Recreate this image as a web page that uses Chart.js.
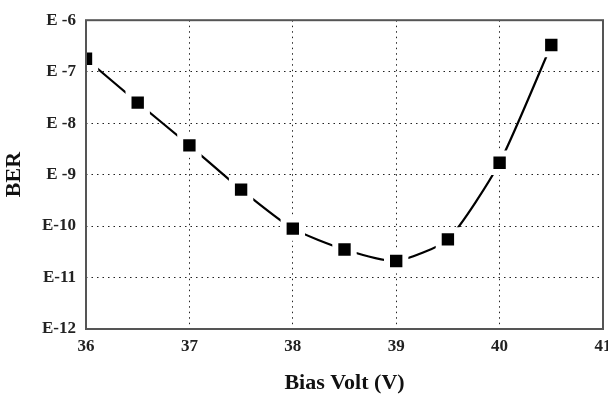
<!DOCTYPE html>
<html>
<head>
<meta charset="utf-8">
<script src="https://cdn.jsdelivr.net/npm/chart.js@4"></script>
<style>
  html, body { margin: 0; padding: 0; background: #fff; }
  #wrap { width: 608px; height: 402px; }
</style>
</head>
<body>
<div id="wrap"><canvas id="c" width="608" height="402"></canvas></div>
<script>
// Data
const biasVolt = [36, 36.5, 37, 37.5, 38, 38.5, 39, 39.5, 40, 40.5];
const berValues = [1.78e-7, 2.5e-8, 3.7e-9, 5.1e-10, 8.9e-11, 3.5e-11, 2.1e-11, 5.5e-11, 1.7e-9, 3.3e-7];
const xTicks = [36, 37, 38, 39, 40, 41];
const yTickExps = [-6, -7, -8, -9, -10, -11, -12];
const yTickLabels = ['E -6', 'E -7', 'E -8', 'E -9', 'E-10', 'E-11', 'E-12'];

const FONT = "'Liberation Serif', 'Times New Roman', serif";

const boxPlugin = {
  id: 'box',
  afterDatasetsDraw(chart) {
    const {ctx, chartArea: a} = chart;
    ctx.save();
    ctx.strokeStyle = '#555';
    ctx.lineWidth = 2;
    ctx.strokeRect(a.left, a.top, a.right - a.left, a.bottom - a.top);
    ctx.restore();
  }
};

new Chart(document.getElementById('c'), {
  type: 'line',
  data: {
    datasets: [{
      data: biasVolt.map((x, i) => ({x: x, y: berValues[i]})),
      borderColor: '#000',
      borderWidth: 2.2,
      tension: 0.2,
      pointStyle: 'rect',
      pointRadius: 13,
      pointBackgroundColor: '#000',
      pointBorderColor: '#fff',
      pointBorderWidth: 6,
      clip: {left: 0, right: false, top: false, bottom: false}
    }]
  },
  plugins: [boxPlugin],
  options: {
    responsive: false,
    animation: false,
    events: [],
    layout: { autoPadding: false, padding: { left: 0, right: 5, top: 18, bottom: 0 } },
    plugins: { legend: { display: false }, tooltip: { enabled: false } },
    scales: {
      x: {
        type: 'linear',
        min: 36, max: 41,
        afterBuildTicks(scale) { scale.ticks = xTicks.map(v => ({value: v})); },
        afterFit(scale) { scale.height = 73; scale.paddingLeft = 0; scale.paddingRight = 0; },
        ticks: {
          color: '#222', padding: 7,
          font: { family: FONT, size: 17, weight: 'bold' },
          maxRotation: 0
        },
        grid: {
          color(ctx) { return (ctx.tick && (ctx.tick.value === 36 || ctx.tick.value === 41)) ? 'rgba(0,0,0,0)' : '#222'; },
          lineWidth: 1, drawTicks: false
        },
        border: { display: false, dash: [1.5, 4] },
        title: {
          display: true, text: 'Bias Volt (V)', color: '#111',
          font: { family: FONT, size: 22, weight: 'bold' },
          padding: { top: 0, bottom: 5 }
        }
      },
      y: {
        type: 'logarithmic',
        min: 1e-12, max: 1e-6,
        afterBuildTicks(scale) { scale.ticks = yTickExps.map(e => ({value: Math.pow(10, e)})); },
        afterFit(scale) { scale.width = 86; },
        ticks: {
          color: '#222', padding: 10,
          font: { family: FONT, size: 17, weight: 'bold' },
          callback(value) {
            const e = Math.round(Math.log10(value));
            const idx = yTickExps.indexOf(e);
            return idx >= 0 ? yTickLabels[idx] : '';
          }
        },
        grid: {
          color(ctx) {
            if (!ctx.tick) return '#222';
            const e = Math.round(Math.log10(ctx.tick.value));
            return (e === -6 || e === -12) ? 'rgba(0,0,0,0)' : '#222';
          },
          lineWidth: 1, drawTicks: false
        },
        border: { display: false, dash: [1.5, 4] },
        title: {
          display: true, text: 'BER', color: '#111',
          font: { family: FONT, size: 22, weight: 'bold' },
          padding: { top: 1, bottom: 0 }
        }
      }
    }
  }
});
</script>
</body>
</html>
